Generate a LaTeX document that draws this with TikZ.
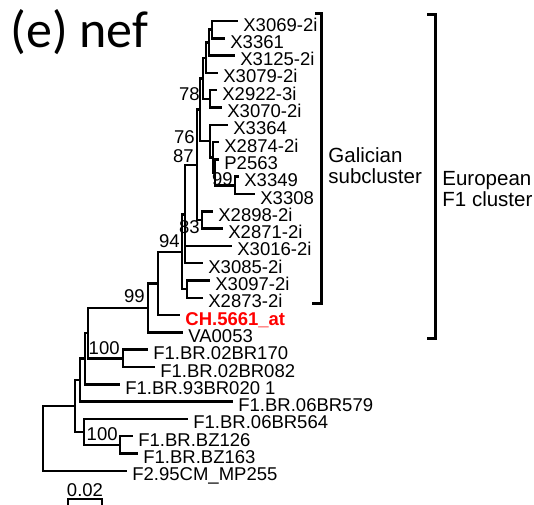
\documentclass[tikz,border=0pt]{standalone}
\usepackage{fontspec}
\setmainfont{Liberation Sans}
\newfontfamily\panelfont{Carlito}
\usepackage{tikz}
\usetikzlibrary{positioning,calc}
\definecolor{queryred}{RGB}{255, 0, 0}
\definecolor{treegray}{RGB}{0, 0, 0}

\begin{document}
\begin{tikzpicture}[
  x=0.5pt, y=-0.5pt,
  every node/.style={font=\fontsize{9.25}{11}\selectfont, inner sep=0pt},
  branch/.style={draw=treegray, line width=1.25pt, line join=miter},
  leaf/.style={anchor=base west, xshift=2.5pt, yshift=-5pt},
  boot/.style={anchor=base east},
  bracket/.style={draw=treegray, line width=1.5pt, line join=miter},
  clade/.style={anchor=west, align=left, font=\fontsize{10.25}{10.5}\selectfont},
]
\useasboundingbox (0,0) rectangle (534,504);

% Panel title
\node[anchor=base west, font=\panelfont\fontsize{26}{26}\selectfont] (panel) at (10,47) {(e) nef};

% Tips
\coordinate (t0)  at (238, 21);
\coordinate (t1)  at (225, 38.3);
\coordinate (t2)  at (235, 55.6);
\coordinate (t3)  at (218, 72.9);
\coordinate (t4)  at (217, 90.2);
\coordinate (t5)  at (222, 107.5);
\coordinate (t6)  at (228, 124.8);
\coordinate (t7)  at (219, 142.1);
\coordinate (t8)  at (219, 159.4);
\coordinate (t9)  at (239, 176.7);
\coordinate (t10) at (255, 194);
\coordinate (t11) at (213, 211.3);
\coordinate (t12) at (223, 228.6);
\coordinate (t13) at (232, 245.9);
\coordinate (t14) at (203, 263.2);
\coordinate (t15) at (210, 280.5);
\coordinate (t16) at (203, 297.8);
\coordinate (t17) at (180, 315.1);
\coordinate (t18) at (183, 332.4);
\coordinate (t19) at (148, 349.7);
\coordinate (t20) at (155, 367);
\coordinate (t21) at (120, 384.3);
\coordinate (t22) at (233, 401.6);
\coordinate (t23) at (188, 418.9);
\coordinate (t24) at (133, 436.2);
\coordinate (t25) at (138, 453.5);
\coordinate (t26) at (127, 470.8);

% Internal nodes
\coordinate (n1)   at (212, 29.65);
\coordinate (n2)   at (209, 42.6);
\coordinate (n3)   at (206, 57.8);
\coordinate (n4)   at (210, 98.85);
\coordinate (n8)   at (203, 78.3);
\coordinate (n99)  at (235, 185.35);
\coordinate (n5)   at (215, 172.4);
\coordinate (n6)   at (213, 157.25);
\coordinate (n7)   at (210, 141);
\coordinate (nB)   at (200, 109.65);
\coordinate (n83)  at (202, 219.95);
\coordinate (n87)  at (197, 164.8);
\coordinate (nQ)   at (185, 214.4);
\coordinate (n9)   at (187, 289.15);
\coordinate (n94)  at (182, 251.8);
\coordinate (nP)   at (158, 283.45);
\coordinate (n99b) at (148, 307.9);
\coordinate (n100a) at (123, 358.35);
\coordinate (na)   at (88, 333.1);
\coordinate (nb)   at (85, 358.7);
\coordinate (nc)   at (80, 380.15);
\coordinate (n100b) at (120, 444.85);
\coordinate (ne)   at (84, 431.9);
\coordinate (nd)   at (75, 406);
\coordinate (root) at (43, 438.4);

% Leaf labels
\node[leaf] (x3069) at (t0)  {X3069-2i};
\node[leaf] (x3361) at (t1)  {X3361};
\node[leaf] (x3125) at (t2)  {X3125-2i};
\node[leaf] (x3079) at (t3)  {X3079-2i};
\node[leaf] (x2922) at (t4)  {X2922-3i};
\node[leaf] (x3070) at (t5)  {X3070-2i};
\node[leaf] (x3364) at (t6)  {X3364};
\node[leaf] (x2874) at (t7)  {X2874-2i};
\node[leaf] (p2563) at (t8)  {P2563};
\node[leaf] (x3349) at (t9)  {X3349};
\node[leaf] (x3308) at (t10) {X3308};
\node[leaf] (x2898) at (t11) {X2898-2i};
\node[leaf] (x2871) at (t12) {X2871-2i};
\node[leaf] (x3016) at (t13) {X3016-2i};
\node[leaf] (x3085) at (t14) {X3085-2i};
\node[leaf] (x3097) at (t15) {X3097-2i};
\node[leaf] (x2873) at (t16) {X2873-2i};
\node[leaf, text=queryred, font=\fontsize{9.25}{11}\selectfont\bfseries] (ch5661) at (t17) {CH.5661\_at};
\node[leaf] (va0053) at (t18) {VA0053};
\node[leaf] (br170) at (t19) {F1.BR.02BR170};
\node[leaf] (br082) at (t20) {F1.BR.02BR082};
\node[leaf] (br020) at (t21) {F1.BR.93BR020 1};
\node[leaf] (br579) at (t22) {F1.BR.06BR579};
\node[leaf] (br564) at (t23) {F1.BR.06BR564};
\node[leaf] (bz126) at (t24) {F1.BR.BZ126};
\node[leaf] (bz163) at (t25) {F1.BR.BZ163};
\node[leaf] (mp255) at (t26) {F2.95CM\_MP255};

% Branches
\draw[branch] (n1) |- (t0);
\draw[branch] (n1) |- (t1);
\draw[branch] (n2) |- (n1);
\draw[branch] (n2) |- (t2);
\draw[branch] (n3) |- (n2);
\draw[branch] (n3) |- (t3);
\draw[branch] (n4) |- (t4);
\draw[branch] (n4) |- (t5);
\draw[branch] (n8) |- (n3);
\draw[branch] (n8) |- (n4);
\draw[branch] (n99) |- (t9);
\draw[branch] (n99) |- (t10);
\draw[branch] (n5) |- (t8);
\draw[branch] (n5) |- (n99);
\draw[branch] (n6) |- (t7);
\draw[branch] (n6) |- (n5);
\draw[branch] (n7) |- (t6);
\draw[branch] (n7) |- (n6);
\draw[branch] (nB) |- (n8);
\draw[branch] (nB) |- (n7);
\draw[branch] (n83) |- (t11);
\draw[branch] (n83) |- (t12);
\draw[branch] (n87) |- (nB);
\draw[branch] (n87) |- (n83);
\draw[branch] (nQ) |- (n87);
\draw[branch] (nQ) |- (t13);
\draw[branch] (nQ) |- (t14);
\draw[branch] (n9) |- (t15);
\draw[branch] (n9) |- (t16);
\draw[branch] (n94) |- (nQ);
\draw[branch] (n94) |- (n9);
\draw[branch] (nP) |- (n94);
\draw[branch] (nP) |- (t17);
\draw[branch] (n99b) |- (nP);
\draw[branch] (n99b) |- (t18);
\draw[branch] (n100a) |- (t19);
\draw[branch] (n100a) |- (t20);
\draw[branch] (na) |- (n99b);
\draw[branch] (na) |- (n100a);
\draw[branch] (nb) |- (na);
\draw[branch] (nb) |- (t21);
\draw[branch] (nc) |- (nb);
\draw[branch] (nc) |- (t22);
\draw[branch] (n100b) |- (t24);
\draw[branch] (n100b) |- (t25);
\draw[branch] (ne) |- (t23);
\draw[branch] (ne) |- (n100b);
\draw[branch] (nd) |- (nc);
\draw[branch] (nd) |- (ne);
\draw[branch] (root) |- (nd);
\draw[branch] (root) |- (t26);

% Bootstrap values
\node[boot] (bs78)   at (200, 100) {78};
\node[boot] (bs76)   at (195, 143) {76};
\node[boot] (bs87)   at (194, 162) {87};
\node[boot] (bs99a)  at (233, 185) {99};
\node[boot] (bs83)   at (200, 233) {83};
\node[boot] (bs94)   at (180, 247) {94};
\node[boot] (bs99b)  at (145, 302) {99};
\node[boot] (bs100a) at (120, 354) {100};
\node[boot] (bs100b) at (118, 440) {100};

% Brackets
\coordinate (gtop) at (321, 13);
\coordinate (gbot) at (321, 303);
\draw[bracket] ($(gtop)+(-6,0)$) -- (gtop) -- (gbot) -- ($(gbot)+(-9,0)$);
\node[clade] (galician) at (328, 166) {Galician\\subcluster};

\coordinate (etop) at (435, 14);
\coordinate (ebot) at (435, 338);
\draw[bracket] ($(etop)+(-8,0)$) -- (etop) -- (ebot) -- ($(ebot)+(-8,0)$);
\node[clade] (european) at (442, 189) {European\\F1 cluster};

% Scale bar
\coordinate (sb1) at (68, 499);
\coordinate (sb2) at (102, 499);
\draw[branch] ($(sb1)+(0,8)$) -- (sb1) -- (sb2) -- ($(sb2)+(0,8)$);
\node[anchor=base] (scale) at (85, 496) {0.02};

\end{tikzpicture}
\end{document}
